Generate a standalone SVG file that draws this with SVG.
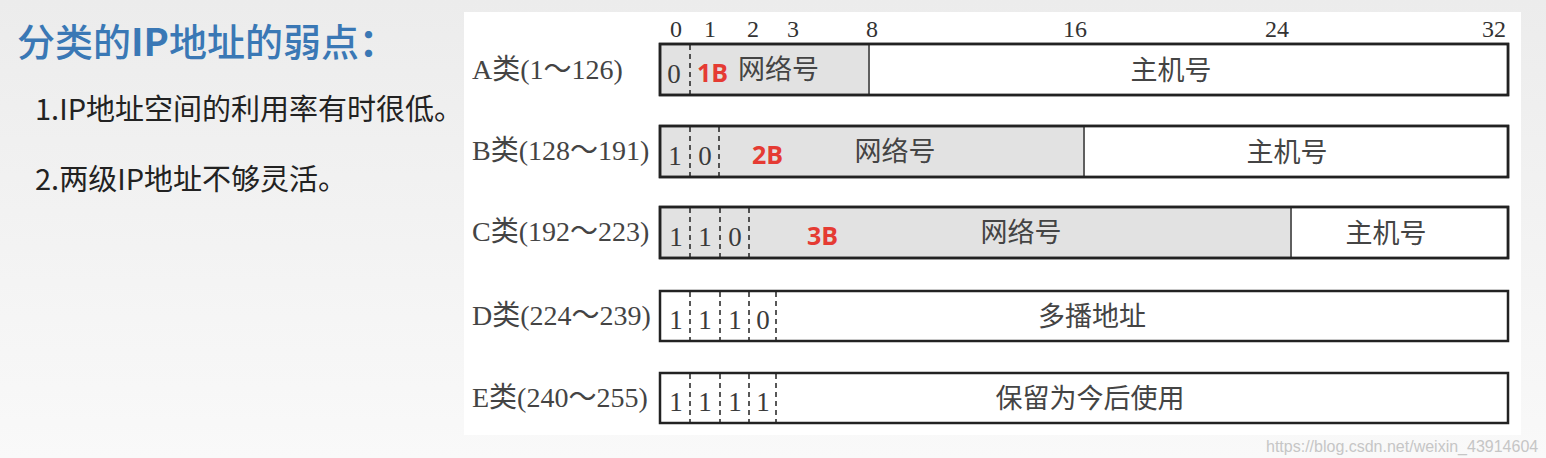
<svg xmlns="http://www.w3.org/2000/svg" width="1546" height="458" viewBox="0 0 1546 458">
<defs>
<linearGradient id="bg" x1="0" y1="0" x2="0" y2="1">
<stop offset="0" stop-color="#ececec"/>
<stop offset="1" stop-color="#f9f9f9"/>
</linearGradient>
</defs>
<style>
.box{stroke:#222;stroke-width:2.5}
.net{fill:#e2e2e2}
.host{fill:#ffffff}
.div{stroke:#333;stroke-width:1.5}
.dash{stroke:#222;stroke-width:1.5;stroke-dasharray:5 4}
.bit{font-family:"Liberation Serif","Noto Sans CJK SC",serif;font-size:24px;fill:#333;text-anchor:middle}
.cls{font-family:"Liberation Serif","Noto Sans CJK SC",serif;font-size:28px;fill:#444}
.dig{font-family:"Liberation Serif",serif;font-size:27px;fill:#3a3a3a;text-anchor:middle}
.red{font-family:"Open Sans","Noto Sans",sans-serif;font-weight:bold;font-size:25px;fill:#e53b33}
.cjk{font-family:"Noto Sans CJK SC",sans-serif;font-size:27px;fill:#444}
.mid{text-anchor:middle}
</style>
<rect width="1546" height="458" fill="url(#bg)"/>
<rect x="464" y="12" width="1057" height="423" fill="#ffffff"/>

<g id="title">
<text x="17" y="56" font-family="'Noto Sans CJK SC',sans-serif" font-weight="500" font-size="38" fill="#3a78b5">分类的<tspan font-weight="bold">IP</tspan>地址的弱点<tspan font-weight="bold">：</tspan></text>
<text x="35" y="120" font-family="'Noto Sans CJK SC',sans-serif" font-size="29" fill="#222">1.IP地址空间的利用率有时很低。</text>
<text x="35" y="190" font-family="'Noto Sans CJK SC',sans-serif" font-size="29" fill="#222">2.两级IP地址不够灵活。</text>
</g>

<g id="scale">
<text class="bit" x="676" y="37">0</text>
<text class="bit" x="710" y="37">1</text>
<text class="bit" x="753" y="37">2</text>
<text class="bit" x="793" y="37">3</text>
<text class="bit" x="872" y="37">8</text>
<text class="bit" x="1075" y="37">16</text>
<text class="bit" x="1277" y="37">24</text>
<text class="bit" x="1494" y="37">32</text>
</g>

<g id="classA">
<text class="cls" x="472" y="79">A类(1～126)</text>
<rect class="box net" x="660" y="44" width="848" height="51"/>
<rect class="host" x="870" y="45.5" width="636.5" height="48"/>
<line class="div" x1="869" y1="44" x2="869" y2="95"/>
<line class="dash" x1="690" y1="45" x2="690" y2="94"/>
<rect x="660" y="44" width="848" height="51" fill="none" class="box"/>
<text class="dig" x="674" y="83">0</text>
<text class="red" x="697" y="82">1B</text>
<text class="cjk" x="738" y="79">网络号</text>
<text class="cjk mid" x="1171" y="80">主机号</text>
</g>

<g id="classB">
<text class="cls" x="472" y="160">B类(128～191)</text>
<rect class="box net" x="660" y="126" width="848" height="51"/>
<rect class="host" x="1085" y="127.5" width="421.5" height="48"/>
<line class="div" x1="1084" y1="126" x2="1084" y2="177"/>
<line class="dash" x1="690" y1="127" x2="690" y2="176"/>
<line class="dash" x1="719" y1="127" x2="719" y2="176"/>
<rect x="660" y="126" width="848" height="51" fill="none" class="box"/>
<text class="dig" x="675" y="165">1</text>
<text class="dig" x="705" y="165">0</text>
<text class="red" x="752" y="164">2B</text>
<text class="cjk mid" x="895" y="161">网络号</text>
<text class="cjk mid" x="1287" y="162">主机号</text>
</g>

<g id="classC">
<text class="cls" x="472" y="241">C类(192～223)</text>
<rect class="box net" x="660" y="207" width="848" height="51"/>
<rect class="host" x="1292" y="208.5" width="214.5" height="48"/>
<line class="div" x1="1291" y1="207" x2="1291" y2="258"/>
<line class="dash" x1="690" y1="208" x2="690" y2="257"/>
<line class="dash" x1="720" y1="208" x2="720" y2="257"/>
<line class="dash" x1="749" y1="208" x2="749" y2="257"/>
<rect x="660" y="207" width="848" height="51" fill="none" class="box"/>
<text class="dig" x="676" y="246">1</text>
<text class="dig" x="705" y="246">1</text>
<text class="dig" x="735" y="246">0</text>
<text class="red" x="807" y="245">3B</text>
<text class="cjk mid" x="1021" y="242">网络号</text>
<text class="cjk mid" x="1386" y="243">主机号</text>
</g>

<g id="classD">
<text class="cls" x="472" y="325">D类(224～239)</text>
<rect class="box host" x="660" y="291" width="848" height="50"/>
<line class="dash" x1="690" y1="292" x2="690" y2="340"/>
<line class="dash" x1="720" y1="292" x2="720" y2="340"/>
<line class="dash" x1="749" y1="292" x2="749" y2="340"/>
<line class="dash" x1="776" y1="292" x2="776" y2="340"/>
<text class="dig" x="676" y="329">1</text>
<text class="dig" x="705" y="329">1</text>
<text class="dig" x="735" y="329">1</text>
<text class="dig" x="763" y="329">0</text>
<text class="cjk mid" x="1092" y="326">多播地址</text>
</g>

<g id="classE">
<text class="cls" x="472" y="407">E类(240～255)</text>
<rect class="box host" x="660" y="373" width="848" height="50"/>
<line class="dash" x1="690" y1="374" x2="690" y2="422"/>
<line class="dash" x1="720" y1="374" x2="720" y2="422"/>
<line class="dash" x1="749" y1="374" x2="749" y2="422"/>
<line class="dash" x1="776" y1="374" x2="776" y2="422"/>
<text class="dig" x="676" y="411">1</text>
<text class="dig" x="705" y="411">1</text>
<text class="dig" x="735" y="411">1</text>
<text class="dig" x="763" y="411">1</text>
<text class="cjk mid" x="1090" y="408">保留为今后使用</text>
</g>

<g id="connectors"/>

<text x="1266" y="452" font-family="'Liberation Sans',Arial,sans-serif" font-size="16" fill="#c6c6c6">https://blog.csdn.net/weixin_43914604</text>
</svg>
